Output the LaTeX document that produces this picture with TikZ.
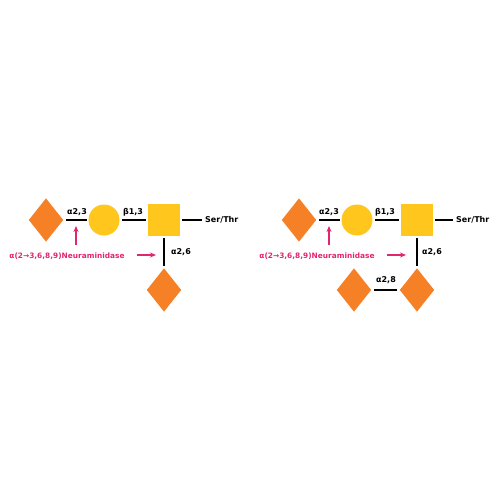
\documentclass[tikz,border=0pt]{standalone}
\usepackage{fontspec}
\setmainfont{DejaVu Sans}
\usetikzlibrary{shapes.geometric,arrows.meta}
\definecolor{siaorange}{HTML}{F58025}
\definecolor{galyellow}{HTML}{FFC61E}
\definecolor{enzpink}{HTML}{E0266E}
\tikzset{
  sia/.style={diamond, fill=siaorange, inner sep=0pt, minimum width=36pt, minimum height=45pt, outer sep=2pt},
  gal/.style={circle, fill=galyellow, inner sep=0pt, minimum size=31pt, outer sep=2pt},
  galnac/.style={rectangle, fill=galyellow, inner sep=0pt, minimum size=32pt, outer sep=2pt},
  link/.style={line width=1.6pt},
  lbl/.style={font=\fontsize{8}{9}\selectfont\bfseries},
  enz/.style={enzpink, line width=1.2pt, -{Stealth[length=6pt,width=5pt]}},
  enztext/.style={text=enzpink, font=\fontsize{7.4}{8}\selectfont\bfseries},
}
\begin{document}
\begin{tikzpicture}[x=1pt,y=-1pt]
\useasboundingbox (0,0) rectangle (500,500);

% Left glycan
\node[sia]    (la) at (46,220)  {};
\node[gal]    (lb) at (104,220) {};
\node[galnac] (lc) at (164,220) {};
\node[lbl, anchor=west, inner sep=3pt] (lst) at (202,220) {Ser/Thr};
\node[sia]    (ld) at (164,290) {};
\draw[link] (la) -- (lb);
\draw[link] (lb) -- (lc);
\draw[link] (lc) -- (lst);
\draw[link] (lc) -- (ld);
\node[lbl] at (77,212)  {α2,3};
\node[lbl] at (133,212) {β1,3};
\node[lbl] at (181,252) {α2,6};

% Left enzyme
\node[enztext] (ln) at (67,256) {α(2→3,6,8,9)Neuraminidase};
\coordinate (lv) at (76,245);
\coordinate (lvt) at (76,226);
\coordinate (lh) at (137,255);
\coordinate (lht) at (156,255);
\draw[enz] (lv) -- (lvt);
\draw[enz] (lh) -- (lht);

% Right glycan
\node[sia]    (ra) at (299,220) {};
\node[gal]    (rb) at (357,220) {};
\node[galnac] (rc) at (417,220) {};
\node[lbl, anchor=west, inner sep=3pt] (rst) at (453,220) {Ser/Thr};
\node[sia]    (rd) at (417,290) {};
\node[sia]    (re) at (354,290) {};
\draw[link] (ra) -- (rb);
\draw[link] (rb) -- (rc);
\draw[link] (rc) -- (rst);
\draw[link] (rc) -- (rd);
\draw[link] (re) -- (rd);
\node[lbl] at (329,212) {α2,3};
\node[lbl] at (385,212) {β1,3};
\node[lbl] at (432,252) {α2,6};
\node[lbl] at (386,280) {α2,8};

% Right enzyme
\node[enztext] (rn) at (317,256) {α(2→3,6,8,9)Neuraminidase};
\coordinate (rv) at (329,245);
\coordinate (rvt) at (329,226);
\coordinate (rh) at (387,255);
\coordinate (rht) at (406,255);
\draw[enz] (rv) -- (rvt);
\draw[enz] (rh) -- (rht);
\end{tikzpicture}
\end{document}
